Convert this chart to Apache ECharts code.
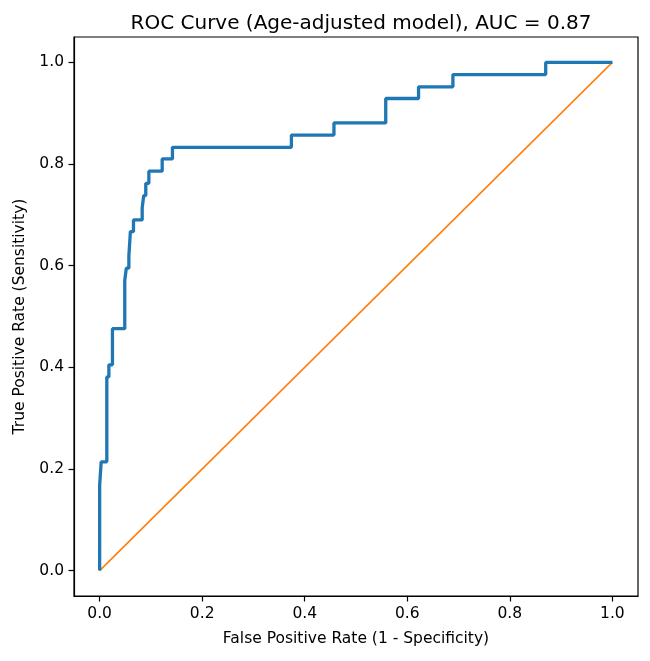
<!DOCTYPE html>
<html>
<head>
<meta charset="utf-8">
<script src="https://cdn.jsdelivr.net/npm/echarts@6/dist/echarts.min.js"></script>
<style>html,body{margin:0;padding:0;background:#fff}#c{width:650px;height:661px}</style>
</head>
<body>
<div id="c"></div>
<script>
// ROC curve corner points
const fpr = [0,0,0.003,0.003,0.014,0.014,0.018,0.018,0.025,0.025,0.049,0.049,0.052,0.052,0.057,0.057,0.060,0.060,0.066,0.066,0.083,0.083,0.086,0.086,0.090,0.090,0.096,0.096,0.122,0.122,0.142,0.142,0.374,0.374,0.457,0.457,0.558,0.558,0.622,0.622,0.689,0.689,0.870,0.870,1.0];
const tpr = [0,0.167,0.167,0.214,0.214,0.381,0.381,0.405,0.405,0.476,0.476,0.571,0.571,0.595,0.595,0.619,0.619,0.667,0.667,0.690,0.690,0.714,0.714,0.738,0.738,0.762,0.762,0.786,0.786,0.810,0.810,0.833,0.833,0.857,0.857,0.881,0.881,0.929,0.929,0.952,0.952,0.976,0.976,1.0,1.0];
const chanceX = [0, 1];
const chanceY = [0, 1];
const tickValues = [0, 0.2, 0.4, 0.6, 0.8, 1.0];
const titleText = 'ROC Curve (Age-adjusted model), AUC = 0.87';
const xName = 'False Positive Rate (1 - Specificity)';
const yName = 'True Positive Rate (Sensitivity)';

const font = 'DejaVu Sans';
const chart = echarts.init(document.getElementById('c'), null, {renderer: 'canvas'});
function axis(name, gap, rot) {
  return {
    type: 'value', min: -0.05, max: 1.05,
    name: name, nameLocation: 'middle', nameGap: gap, nameRotate: rot,
    nameTextStyle: {fontFamily: font, fontSize: 15.5, color: '#000'},
    axisLine: {show: true, onZero: false, lineStyle: {color: '#000', width: 1.2}},
    axisTick: {show: true, inside: false, length: 5.5, customValues: tickValues, lineStyle: {color: '#000', width: 1.2}},
    axisLabel: {customValues: tickValues, fontFamily: font, fontSize: 15.5, color: '#000', margin: 10,
      formatter: v => v.toFixed(1)},
    splitLine: {show: false}
  };
}
const xA = axis(xName, 35, 0);
const yA = axis(yName, 43, 90);
chart.setOption({
  animation: false,
  title: {text: titleText, left: 356, textAlign: 'center', top: 9,
    textStyle: {fontFamily: font, fontSize: 20, fontWeight: 'normal', color: '#000'}},
  grid: {left: 74, right: 12, top: 37, bottom: 65, show: true, borderColor: '#000', borderWidth: 1.2, backgroundColor: 'transparent'},
  xAxis: xA,
  yAxis: yA,
  series: [
    {type: 'line', data: fpr.map((x, i) => [x, tpr[i]]), showSymbol: false, symbol: 'none',
      lineStyle: {color: '#1f77b4', width: 3.3}, z: 3},
    {type: 'line', data: chanceX.map((x, i) => [x, chanceY[i]]), showSymbol: false, symbol: 'none',
      lineStyle: {color: '#ff7f0e', width: 1.6}, z: 2}
  ]
});
</script>
</body>
</html>
